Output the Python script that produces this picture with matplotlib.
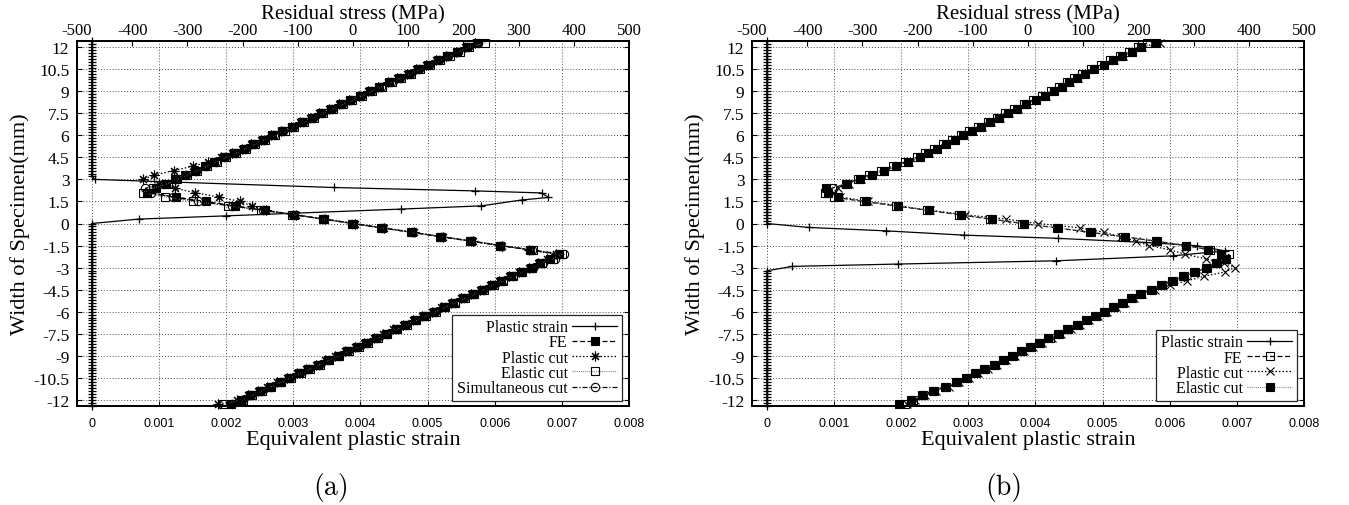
import matplotlib
matplotlib.use("Agg")
import matplotlib.pyplot as plt

plt.rcParams["axes.unicode_minus"] = False

SERIF = ["Liberation Serif", "DejaVu Serif"]
SANS = ["Liberation Sans", "DejaVu Sans"]

# ── Data ────────────────────────────────────────────────────────────────────

# specimen positions (mm) where the stress profiles are sampled
Y_NODES = [
    12.3, 12.0, 11.7, 11.4, 11.1, 10.8, 10.5, 10.2, 9.9, 9.6,
    9.3, 9.0, 8.7, 8.4, 8.1, 7.8, 7.5, 7.2, 6.9, 6.6,
    6.3, 6.0, 5.7, 5.4, 5.1, 4.8, 4.5, 4.2, 3.9, 3.6,
    3.3, 3.0, 2.7, 2.4, 2.1, 1.8, 1.5, 1.2, 0.9, 0.6,
    0.3, 0.0, -0.3, -0.6, -0.9, -1.2, -1.5, -1.8, -2.1, -2.4,
    -2.7, -3.0, -3.3, -3.6, -3.9, -4.2, -4.5, -4.8, -5.1, -5.4,
    -5.7, -6.0, -6.3, -6.6, -6.9, -7.2, -7.5, -7.8, -8.1, -8.4,
    -8.7, -9.0, -9.3, -9.6, -9.9, -10.2, -10.5, -10.8, -11.1, -11.4,
    -11.7, -12.0, -12.3,
]

# positions (mm) where the plastic strain is sampled
RULER_Y = [
    12.4, 12.2, 12.0, 11.8, 11.6, 11.4, 11.2, 11.0, 10.8, 10.6,
    10.4, 10.2, 10.0, 9.8, 9.6, 9.4, 9.2, 9.0, 8.8, 8.6,
    8.4, 8.2, 8.0, 7.8, 7.6, 7.4, 7.2, 7.0, 6.8, 6.6,
    6.4, 6.2, 6.0, 5.8, 5.6, 5.4, 5.2, 5.0, 4.8, 4.6,
    4.4, 4.2, 4.0, 3.8, 3.6, 3.4, 3.2, 3.0, 2.8, 2.6,
    2.4, 2.2, 2.0, 1.8, 1.6, 1.4, 1.2, 1.0, 0.8, 0.6,
    0.4, 0.2, 0.0, -0.2, -0.4, -0.6, -0.8, -1.0, -1.2, -1.4,
    -1.6, -1.8, -2.0, -2.2, -2.4, -2.6, -2.8, -3.0, -3.2, -3.4,
    -3.6, -3.8, -4.0, -4.2, -4.4, -4.6, -4.8, -5.0, -5.2, -5.4,
    -5.6, -5.8, -6.0, -6.2, -6.4, -6.6, -6.8, -7.0, -7.2, -7.4,
    -7.6, -7.8, -8.0, -8.2, -8.4, -8.6, -8.8, -9.0, -9.2, -9.4,
    -9.6, -9.8, -10.0, -10.2, -10.4, -10.6, -10.8, -11.0, -11.2, -11.4,
    -11.6, -11.8, -12.0, -12.2, -12.4,
]

# panel (a): plastic strain spike, strain elsewhere is zero
PS_A_SPIKE_Y = [3.0, 2.45, 2.22, 2.08, 1.77, 1.6, 1.2, 0.98, 0.52, 0.3, 0.0]
PS_A_SPIKE_X = [0.00005, 0.0036, 0.0057, 0.0067, 0.0068, 0.0064, 0.0058,
                0.0046, 0.002, 0.0007, 0.0]

# panel (a): residual stress (MPa) at Y_NODES
FE_A = [
    224, 206, 189, 171, 154, 136, 118, 101, 83, 66,
    48, 30, 13, -5, -22, -40, -58, -75, -93, -110,
    -128, -146, -163, -181, -198, -216, -234, -251, -269, -286,
    -304, -322, -339, -357, -374, -321, -267, -214, -160, -107,
    -53, 0, 53, 107, 160, 214, 267, 321, 374, 357,
    339, 322, 304, 287, 269, 252, 234, 217, 199, 182,
    164, 147, 129, 112, 94, 77, 59, 42, 24, 7,
    -11, -28, -46, -63, -81, -98, -116, -133, -151, -168,
    -186, -203, -221,
]
PCUT_A = [
    221, 203, 186, 168, 151, 133, 115, 98, 80, 63,
    45, 27, 10, -8, -25, -43, -61, -78, -96, -113,
    -131, -149, -166, -184, -201, -219, -240, -262, -290, -325,
    -360, -380, -352, -322, -287, -242, -205, -183, -158, -104,
    -50, 3, 56, 110, 163, 217, 270, 318, 368, 352,
    335, 318, 300, 283, 265, 248, 230, 213, 195, 178,
    160, 143, 125, 108, 90, 73, 55, 38, 20, 3,
    -15, -32, -50, -67, -85, -102, -120, -137, -155, -172,
    -190, -210, -245,
]
ECUT_A = [
    240, 210, 193, 175, 158, 140, 122, 105, 87, 70,
    52, 34, 17, -1, -18, -36, -54, -71, -89, -106,
    -124, -142, -159, -177, -194, -212, -230, -247, -265, -282,
    -300, -318, -336, -362, -380, -340, -290, -226, -166, -110,
    -55, -2, 51, 105, 158, 212, 266, 326, 378, 362,
    343, 325, 307, 290, 272, 255, 237, 220, 202, 185,
    167, 150, 132, 115, 97, 80, 62, 45, 27, 10,
    -8, -25, -43, -60, -78, -95, -113, -130, -148, -165,
    -183, -200, -235,
]
SCUT_A = [
    226, 208, 191, 173, 156, 138, 120, 103, 85, 68,
    50, 32, 15, -3, -20, -38, -56, -73, -91, -108,
    -126, -144, -161, -179, -196, -214, -232, -249, -267, -284,
    -302, -320, -345, -376, -366, -326, -280, -220, -163, -108,
    -54, -1, 52, 106, 159, 213, 266, 325, 382, 366,
    345, 326, 307, 289, 271, 254, 236, 219, 201, 184,
    166, 149, 131, 114, 96, 79, 61, 44, 26, 9,
    -9, -26, -44, -61, -79, -96, -114, -131, -149, -166,
    -184, -201, -219,
]

# panel (b): plastic strain spike
PS_B_SPIKE_Y = [0.0, -0.27, -0.5, -0.79, -1.01, -1.29, -1.51, -1.86, -2.2,
                -2.54, -2.76, -2.92, -3.22]
PS_B_SPIKE_X = [0.0, 0.00063, 0.00177, 0.00293, 0.00433, 0.00564, 0.0064,
                0.00682, 0.00605, 0.0043, 0.00195, 0.00038, 0.0]

# panel (b): residual stress (MPa) at Y_NODES
FE_B = [
    216, 200, 183, 166, 149, 132, 114, 98, 84, 70,
    56, 42, 26, 9, -8, -25, -41, -57, -73, -90,
    -106, -122, -138, -154, -170, -186, -201, -222, -245, -266,
    -288, -308, -330, -355, -368, -352, -298, -240, -183, -125,
    -68, -10, 52, 112, 172, 232, 286, 330, 364, 356,
    342, 325, 303, 282, 262, 243, 225, 205, 188, 172,
    156, 140, 123, 107, 90, 73, 56, 39, 22, 5,
    -11, -27, -43, -60, -77, -94, -111, -129, -148, -170,
    -190, -208, -222,
]
PCUT_B = [
    240, 206, 189, 172, 155, 138, 120, 104, 90, 76,
    62, 48, 32, 15, -2, -19, -35, -51, -67, -84,
    -100, -116, -132, -148, -164, -180, -195, -216, -239, -260,
    -282, -302, -324, -345, -352, -340, -290, -235, -178, -115,
    -40, 18, 95, 138, 168, 195, 220, 258, 285, 322,
    355, 375, 356, 318, 288, 258, 230, 207, 192, 176,
    160, 144, 127, 111, 94, 77, 60, 43, 26, 9,
    -7, -23, -39, -56, -73, -90, -107, -125, -144, -166,
    -186, -204, -220,
]
ECUT_B = [
    232, 205, 188, 171, 154, 137, 119, 103, 89, 75,
    61, 47, 31, 14, -3, -20, -36, -52, -68, -85,
    -101, -117, -133, -149, -165, -181, -196, -217, -240, -261,
    -283, -304, -327, -366, -362, -345, -293, -236, -180, -122,
    -65, -7, 55, 115, 175, 234, 287, 326, 350, 358,
    340, 323, 301, 280, 260, 241, 223, 203, 186, 170,
    154, 138, 121, 105, 88, 71, 54, 37, 20, 3,
    -13, -29, -45, -62, -79, -96, -113, -131, -150, -172,
    -192, -212, -234,
]

STRAIN_TICKS = [0, 0.001, 0.002, 0.003, 0.004, 0.005, 0.006, 0.007, 0.008]
STRAIN_LABELS = ["0", "0.001", "0.002", "0.003", "0.004", "0.005", "0.006",
                 "0.007", "0.008"]
STRESS_TICKS = [-500, -400, -300, -200, -100, 0, 100, 200, 300, 400, 500]
Y_TICKS = [12, 10.5, 9, 7.5, 6, 4.5, 3, 1.5, 0, -1.5, -3, -4.5, -6, -7.5,
           -9, -10.5, -12]

# ── Styles ──────────────────────────────────────────────────────────────────

PS_STYLE = dict(color="k", lw=0.9, ls="-", marker="+", ms=6, mew=0.9)
DASHED = (0, (4, 2))
DOTTED = (0, (1.2, 1.6))
FINE_DOT = (0, (0.7, 1.0))
DASH_DOT = (0, (4, 1.5, 1, 1.5))


def _line(ls, marker, filled, ms=6, color="k"):
    return dict(color=color, lw=0.9, ls=ls, marker=marker, ms=ms, mew=0.8,
                mec="k", mfc="k" if filled else "none")


def draw_panel(fig, left, ps_y, ps_x, series, tag, tag_x):
    ax = fig.add_axes([left, 99 / 506, 552 / 1349, 365 / 506])
    top = ax.twiny()

    ax.set_xlim(-0.00022, 0.008)
    top.set_xlim(-500, 500)
    ax.set_ylim(-12.42, 12.42)

    ax.grid(True, ls=(0, (1, 2)), lw=0.7, color="0.3")

    handles = []
    (h,) = ax.plot(ps_x, ps_y, clip_on=False, label="Plastic strain", **PS_STYLE)
    handles.append(h)
    for label, values, style in series:
        (h,) = top.plot(values, Y_NODES, clip_on=False, label=label, **style)
        handles.append(h)

    ax.set_xticks(STRAIN_TICKS, labels=STRAIN_LABELS, fontfamily=SANS, fontsize=9)
    ax.set_yticks(Y_TICKS, labels=[f"{v:g}" for v in Y_TICKS],
                  fontfamily=SERIF, fontsize=12.5)
    top.set_xticks(STRESS_TICKS, labels=[str(v) for v in STRESS_TICKS],
                   fontfamily=SERIF, fontsize=12)

    ax.tick_params(axis="x", direction="in", length=3.6, width=0.8,
                   top=False, pad=8)
    ax.tick_params(axis="y", direction="in", length=3.6, width=0.8,
                   left=True, right=True, pad=5.5)
    top.tick_params(axis="x", direction="in", length=3.6, width=0.8, pad=2.4)
    for a in (ax, top):
        for sp in a.spines.values():
            sp.set_linewidth(1.4)

    ax.set_ylabel("Width of Specimen(mm)", fontfamily=SERIF, fontsize=16)
    ax.yaxis.set_label_coords(-0.085, 0.5)
    ax.set_xlabel("Equivalent plastic strain", fontfamily=SERIF, fontsize=16)
    ax.xaxis.set_label_coords(0.5, -0.066)
    top.set_xlabel("Residual stress (MPa)", fontfamily=SERIF, fontsize=15)
    top.xaxis.set_label_coords(0.5, 1.061)

    leg = top.legend(handles=handles, loc="lower right",
                     bbox_to_anchor=(0.987, 0.014), bbox_transform=ax.transAxes,
                     borderaxespad=0, markerfirst=False, fancybox=False,
                     framealpha=1, edgecolor="0.15",
                     prop=dict(family=SERIF, size=11.5), labelspacing=-0.05,
                     handlelength=2.8, handletextpad=0.3, borderpad=0.3)
    leg.get_frame().set_linewidth(0.9)

    fig.text(tag_x, 0.037, tag, fontfamily="cmr10", fontsize=20,
             ha="center", va="center")
    return ax


fig = plt.figure(figsize=(13.49, 5.06), dpi=100)

ps_a_y = [y for y in RULER_Y if y > 3.1] + PS_A_SPIKE_Y + [y for y in RULER_Y if y < -0.1]
ps_a_x = [0.0] * len([y for y in RULER_Y if y > 3.1]) + PS_A_SPIKE_X + \
    [0.0] * len([y for y in RULER_Y if y < -0.1])
series_a = [
    ("FE", FE_A, _line(DASHED, "s", True)),
    ("Plastic cut", PCUT_A, _line(DOTTED, (8, 2, 0), False, ms=7)),
    ("Elastic cut", ECUT_A, _line(FINE_DOT, "s", False, color="0.45")),
    ("Simultaneous cut", SCUT_A, _line(DASH_DOT, "o", False)),
]
draw_panel(fig, 77 / 1349, ps_a_y, ps_a_x, series_a, "(a)", 331 / 1349)

ps_b_y = [y for y in RULER_Y if y > 0.1] + PS_B_SPIKE_Y + [y for y in RULER_Y if y < -3.3]
ps_b_x = [0.0] * len([y for y in RULER_Y if y > 0.1]) + PS_B_SPIKE_X + \
    [0.0] * len([y for y in RULER_Y if y < -3.3])
series_b = [
    ("FE", FE_B, _line(DASHED, "s", False)),
    ("Plastic cut", PCUT_B, _line(DOTTED, "x", False, ms=6)),
    ("Elastic cut", ECUT_B, _line(FINE_DOT, "s", True, color="0.45")),
]
draw_panel(fig, 752 / 1349, ps_b_y, ps_b_x, series_b, "(b)", 1004 / 1349)

fig.savefig("out.png", dpi=100, facecolor="white")
